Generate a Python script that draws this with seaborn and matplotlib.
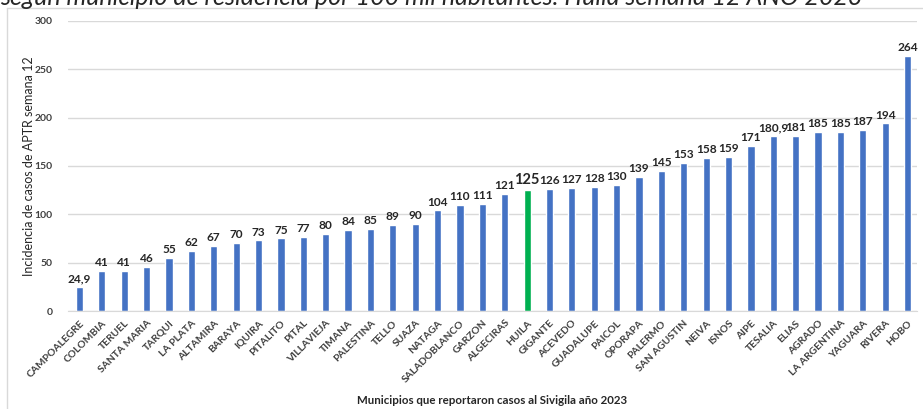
import pandas as pd
import seaborn as sns
import matplotlib.pyplot as plt

municipios = ["CAMPOALEGRE", "COLOMBIA", "TERUEL", "SANTA MARIA", "TARQUI", "LA PLATA",
              "ALTAMIRA", "BARAYA", "IQUIRA", "PITALITO", "PITAL", "VILLAVIEJA", "TIMANA",
              "PALESTINA", "TELLO", "SUAZA", "NATAGA", "SALADOBLANCO", "GARZON", "ALGECIRAS",
              "HUILA", "GIGANTE", "ACEVEDO", "GUADALUPE", "PAICOL", "OPORAPA", "PALERMO",
              "SAN AGUSTIN", "NEIVA", "ISNOS", "AIPE", "TESALIA", "ELIAS", "AGRADO",
              "LA ARGENTINA", "YAGUARA", "RIVERA", "HOBO"]
incidencia = [24.9, 41, 41, 46, 55, 62, 67, 70, 73, 75, 77, 80, 84, 85, 89, 90, 104, 110,
              111, 121, 125, 126, 127, 128, 130, 139, 145, 153, 158, 159, 171, 180.9, 181,
              185, 185, 187, 194, 264]
etiquetas = ["24,9", "41", "41", "46", "55", "62", "67", "70", "73", "75", "77", "80", "84",
             "85", "89", "90", "104", "110", "111", "121", "125", "126", "127", "128", "130",
             "139", "145", "153", "158", "159", "171", "180,9", "181", "185", "185", "187",
             "194", "264"]

df = pd.DataFrame({"municipio": municipios, "incidencia": incidencia})
azul = "#4472C4"
verde = "#00B050"
colores = {m: (verde if m == "HUILA" else azul) for m in municipios}

sns.set_style("white")
plt.rcParams["font.family"] = ["Lato", "DejaVu Sans"]

fig = plt.figure(figsize=(9.23, 4.09), dpi=100)
ax = fig.add_axes([0.074, 0.2396, 0.919, 0.7091])

sns.barplot(data=df, x="municipio", y="incidencia", hue="municipio", palette=colores,
            legend=False, width=0.32, saturation=1, ax=ax)

ax.set_ylim(0, 300)
ax.set_xlim(-0.5, 37.4)
ax.set_yticks(range(0, 301, 50))
ax.yaxis.grid(True, color="#D9D9D9", linewidth=1)
ax.set_axisbelow(True)
for s in ["top", "right", "left"]:
    ax.spines[s].set_visible(False)
ax.spines["bottom"].set_color("#D9D9D9")
ax.tick_params(left=False, bottom=False, pad=2)
ax.tick_params(axis="y", pad=8)

plt.setp(ax.get_yticklabels(), fontsize=7.5, fontweight="bold", color="#404040")
plt.setp(ax.get_xticklabels(), rotation=45, ha="right", rotation_mode="anchor",
         fontsize=7.4, fontweight="bold", color="#404040")

for i, (v, t) in enumerate(zip(incidencia, etiquetas)):
    big = municipios[i] == "HUILA"
    ax.text(i, v + 3, t, ha="center", va="bottom", fontsize=10.5 if big else 8.6,
            fontweight="bold", color="#262626")

ax.set_ylabel("Incidencia de casos de APTR semana 12", fontsize=9, color="#262626")
ax.set_xlabel("Municipios que reportaron casos al Sivigila año 2023", fontsize=8.3,
              fontweight="bold", color="#262626", labelpad=8)
ax.yaxis.set_label_coords(-0.039, 0.5)

# title is cut by the top edge, as in the source image
fig.text(0.0, 0.988, "según municipio de residencia por 100 mil habitantes. Huila semana 12 AÑO 2023",
         fontsize=18, style="italic", va="baseline", ha="left", color="#262626")

fig.add_artist(plt.Line2D([0.0075, 0.0075], [0.0, 0.980], color="#D9D9D9", linewidth=1,
                          transform=fig.transFigure))
fig.add_artist(plt.Line2D([0.0075, 1.0], [0.980, 0.980], color="#D9D9D9", linewidth=1,
                          transform=fig.transFigure))

fig.savefig("out.png", dpi=100)
